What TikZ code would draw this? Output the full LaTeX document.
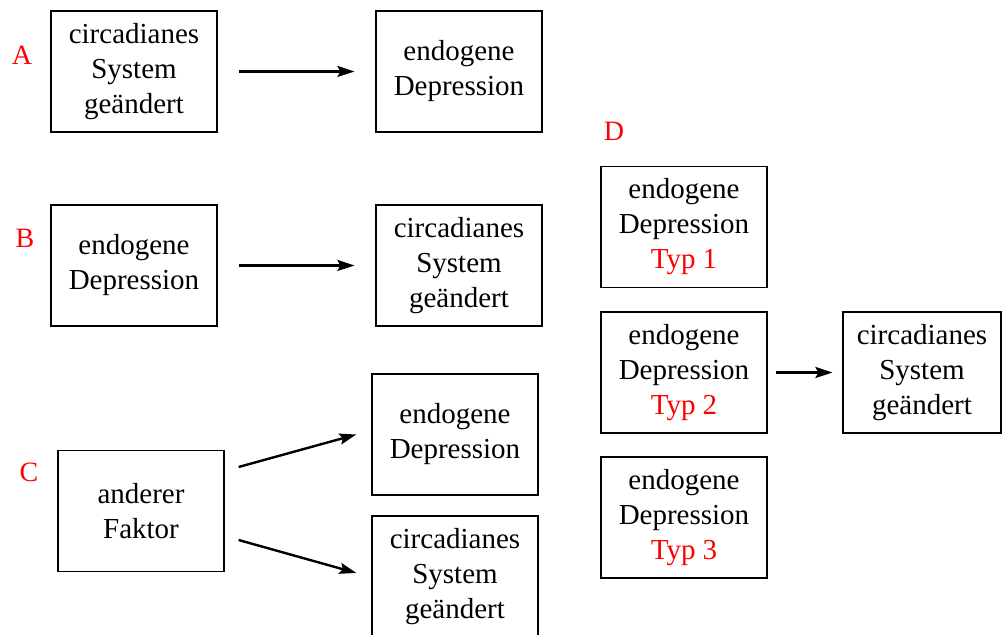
\documentclass[tikz,border=0pt]{standalone}
\usepackage{fontspec}
\setmainfont{Liberation Serif}
\usetikzlibrary{arrows.meta}

\begin{document}
\begin{tikzpicture}[x=0.5pt,y=-0.5pt,
    box/.style={draw,line width=0.6pt,minimum width=83pt,minimum height=60.5pt,
      inner sep=0pt,align=center,font=\fontsize{14.5}{17.5}\selectfont},
    tag/.style={red,font=\fontsize{14}{16}\selectfont},
    arr/.style={-{Stealth[length=8.5pt,width=5.5pt,inset=1.5pt]},line width=1.2pt}]
  \useasboundingbox (0,0) rectangle (1002,635);
  \clip (0,0) rectangle (1002,635);

  \foreach \t/\x/\y in {A/22/55,B/25/238,C/29/472,D/614/131} {
    \node[tag] (lab\t) at (\x,\y) {\t};
  }

  \node[box] (sysA) at (134,71.5) {circadianes\\System\\geändert};
  \node[box] (depA) at (459,71.5) {endogene\\Depression};
  \draw[arr,shorten <=10.5pt,shorten >=10.5pt] (sysA) -- (depA);

  \node[box] (depB) at (134,265.5) {endogene\\Depression};
  \node[box] (sysB) at (459,265.5) {circadianes\\System\\geändert};
  \draw[arr,shorten <=10.5pt,shorten >=10.5pt] (depB) -- (sysB);

  \node[box] (fakC) at (141,511) {anderer\\Faktor};
  \node[box] (depC) at (455,434.5) {endogene\\Depression};
  \node[box] (sysC) at (455,576.5) {circadianes\\System\\geändert};
  \draw[arr] ([shift={(7pt,22pt)}]fakC.east) -- ([xshift=-7.5pt]depC.west);
  \draw[arr] ([shift={(7pt,-14.5pt)}]fakC.east) -- ([shift={(-7.5pt,1.75pt)}]sysC.west);

  \foreach \n/\y in {1/227,2/372.5,3/517.5} {
    \node[box] (typ\n) at (684,\y) {endogene\\Depression\\\textcolor{red}{Typ \n}};
  }
  \node[box,minimum width=79pt] (sysD) at (922,372.5) {circadianes\\System\\geändert};
  \draw[arr] ([xshift=4pt]typ2.east) -- ([xshift=-5pt]sysD.west);
\end{tikzpicture}
\end{document}
